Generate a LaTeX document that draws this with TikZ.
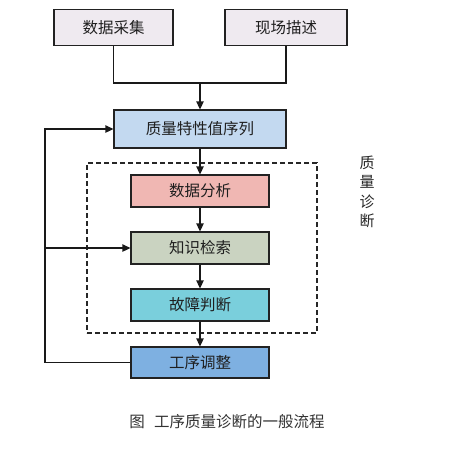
\documentclass[tikz,border=0pt]{standalone}
\usepackage{fontspec}
\setmainfont{Noto Sans CJK SC}
\usetikzlibrary{arrows.meta}
\definecolor{cTop}{HTML}{EFEAF0}
\definecolor{cSeq}{HTML}{C3D9F0}
\definecolor{cAna}{HTML}{F0B7B3}
\definecolor{cKno}{HTML}{CAD3C1}
\definecolor{cFau}{HTML}{7ACFDC}
\definecolor{cAdj}{HTML}{7EB0E1}
\definecolor{cBorder}{HTML}{222222}
\tikzset{
  box/.style={draw=cBorder, line width=1.3pt, minimum height=#1, inner sep=0pt, font=\fontsize{15.5}{18}\selectfont, text=black!88},
  box/.default=32pt,
  conn/.style={line width=1.3pt, draw=black!90},
  arr/.style={conn, -{Triangle[length=8pt,width=7.5pt]}},
}
\begin{document}
\begin{tikzpicture}[x=1pt,y=-1pt]
\useasboundingbox (0,0) rectangle (449,456);
\node[box=36pt, fill=cTop, minimum width=119pt] (b1) at (113.5,27.5) {数据采集};
\node[box=36pt, fill=cTop, minimum width=122pt] (b2) at (286,27.5) {现场描述};
\node[box=38pt, fill=cSeq, minimum width=172pt] (b3) at (200,129) {质量特性值序列};
\node[box, fill=cAna, minimum width=138pt] (b4) at (200,191) {数据分析};
\node[box, fill=cKno, minimum width=138pt] (b5) at (200,248) {知识检索};
\node[box, fill=cFau, minimum width=138pt] (b6) at (200,305) {故障判断};
\node[box=31pt, fill=cAdj, minimum width=138pt] (b7) at (200,362.5) {工序调整};
\node[draw=black!85, line width=1.1pt, dash pattern=on 5pt off 3pt, minimum width=230pt, minimum height=170pt, inner sep=0pt] (dbox) at (202,248) {};
\node[align=center, font=\fontsize{15}{19.5}\selectfont, text=black!85] (lab) at (367,192) {质\\量\\诊\\断};
\node[font=\fontsize{15.5}{18}\selectfont, text=black!80] (cap) at (227,422) {图\hspace{0.6em}工序质量诊断的一般流程};
\coordinate (j) at (200,83);
\coordinate (fb) at (45,362.5);
\coordinate (fm) at (45,248);
\draw[conn] (b1.south) |- (j);
\draw[conn] (b2.south) |- (j);
\draw[arr] (j) -- (b3.north);
\draw[arr] (b3.south) -- (b4.north);
\draw[arr] (b4.south) -- (b5.north);
\draw[arr] (b5.south) -- (b6.north);
\draw[arr] (b6.south) -- (b7.north);
\draw[arr] (b7.west) -- (fb) |- (b3.west);
\draw[arr] (fm) -- (b5.west);
\end{tikzpicture}
\end{document}
